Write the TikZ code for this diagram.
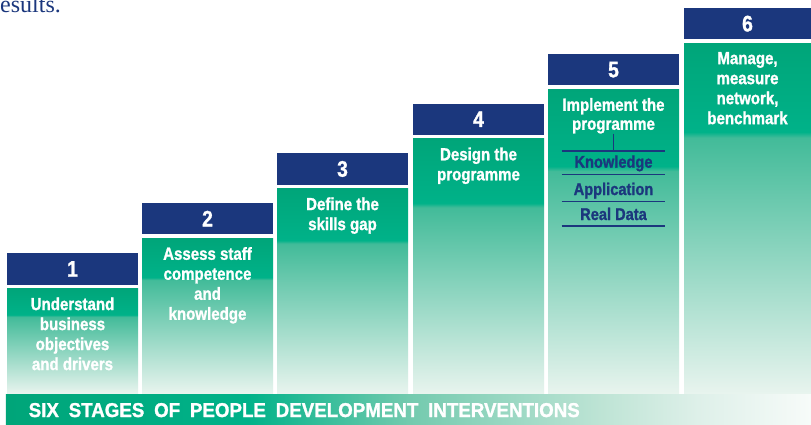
\documentclass[tikz,border=0pt]{standalone}
\usepackage{fontspec}
\usepackage{graphicx}
\newfontfamily\condfont[FakeStretch=0.86,FakeBold=1.2]{Liberation Sans}
\newfontfamily\serifres{Liberation Serif}
\definecolor{stageblue}{RGB}{27,55,125}
\definecolor{gtop}{RGB}{0,165,121}
\definecolor{gmid}{RGB}{0,178,137}
\definecolor{glight}{RGB}{66,187,153}
\definecolor{gpale}{RGB}{232,244,238}
\definecolor{bmid}{RGB}{115,202,174}
\definecolor{bmid2}{RGB}{190,228,213}
\definecolor{bmid3}{RGB}{222,240,233}
\definecolor{bend}{RGB}{247,251,249}
\pgfdeclareverticalshading{stageshade}{100bp}{color(0bp)=(gpale); color(25bp)=(gpale); color(61.5bp)=(glight); color(62.3bp)=(gmid); color(75bp)=(gtop); color(100bp)=(gtop)}
\pgfdeclarehorizontalshading{bannershade}{100bp}{color(0bp)=(gtop); color(25bp)=(gtop); color(40bp)=(gmid); color(50bp)=(bmid); color(62bp)=(bmid2); color(68bp)=(bmid3); color(75bp)=(bend); color(100bp)=(bend)}
\begin{document}
\begin{tikzpicture}[x=1bp,y=-1bp]
\tikzset{
  numbox/.style={fill=stageblue, inner sep=0, outer sep=0, minimum height=31.3bp, text=white, font=\condfont\bfseries\fontsize{22.5bp}{22.5bp}\selectfont},
  stagebox/.style={shade, shading=stageshade, inner sep=0, outer sep=0},
  stagetext/.style={anchor=north, inner sep=0, align=center, text=white, font=\condfont\bfseries\fontsize{17.5bp}{20bp}\selectfont, execute at begin node={\rule{0pt}{13.5bp}}},
  subtext/.style={anchor=base, inner sep=0, text=stageblue, font=\condfont\bfseries\fontsize{17bp}{20bp}\selectfont},
  subrule/.style={draw=stageblue, line width=1.1bp}
}
\useasboundingbox (0,0) rectangle (811,424);
\fill[white] (0,0) rectangle (811,424);
\node[anchor=base west, inner sep=0, text=stageblue, font=\serifres\fontsize{24bp}{24bp}\selectfont] (res) at (-8,12.5) {results.};
\foreach \i/\L/\R/\T in {1/7/138/253.3, 2/142/273/203, 3/277/408/153.3, 4/413/544/103.5, 5/548/679/54, 6/684/811/8} {
  \node[numbox, minimum width={(\R-\L)*1bp}] (n\i) at ({(\L+\R)/2},{\T+15.65}) {\i};
  \node[stagebox, minimum width={(\R-\L)*1bp}, minimum height={(393.3-\T-35)*1bp}] (g\i) at ({(\L+\R)/2},{(\T+35+393.3)/2}) {};
}
\node[stagetext, yshift=-8.9bp] (t1) at (g1.north) {Understand\\business\\objectives\\and drivers};
\node[stagetext, yshift=-8.9bp] (t2) at (g2.north) {Assess staff\\competence\\and\\knowledge};
\node[stagetext, yshift=-8.9bp] (t3) at (g3.north) {Define the\\skills gap};
\node[stagetext, yshift=-8.9bp] (t4) at (g4.north) {Design the\\programme};
\node[stagetext, yshift=-8.9bp, font=\condfont\bfseries\fontsize{17.5bp}{19bp}\selectfont] (t5) at (g5.north) {Implement the\\programme};
\node[stagetext, yshift=-8.9bp] (t6) at (g6.north) {Manage,\\measure\\network,\\benchmark};
\coordinate (r0l) at (561.7,151); \coordinate (r0r) at (665,151);
\coordinate (r1l) at (561.7,174.3); \coordinate (r1r) at (665,174.3);
\coordinate (r2l) at (561.7,201.7); \coordinate (r2r) at (665,201.7);
\coordinate (r3l) at (561.7,226); \coordinate (r3r) at (665,226);
\draw[subrule] (t5.south) -- (t5.south |- r0l);
\draw[subrule] (r0l) -- (r0r);
\draw[subrule] (r1l) -- (r1r);
\draw[subrule] (r2l) -- (r2r);
\draw[subrule] (r3l) -- (r3r);
\node[subtext] (kn) at (613.5,167.7) {Knowledge};
\node[subtext] (ap) at (613.5,195) {Application};
\node[subtext] (rd) at (613.5,220) {Real Data};
\node[shade, shading=bannershade, inner sep=0, outer sep=0, minimum width=805bp, minimum height=30bp] (banner) at (408.5,409) {};
\node[anchor=base west, inner sep=0, text=white, font=\condfont\bfseries\fontsize{20bp}{20bp}\selectfont] (btext) at (28.5,417) {\resizebox{551bp}{\height}{SIX\hspace{0.45em}STAGES\hspace{0.45em}OF\hspace{0.45em}PEOPLE\hspace{0.45em}DEVELOPMENT\hspace{0.45em}INTERVENTIONS}};
\end{tikzpicture}
\end{document}
